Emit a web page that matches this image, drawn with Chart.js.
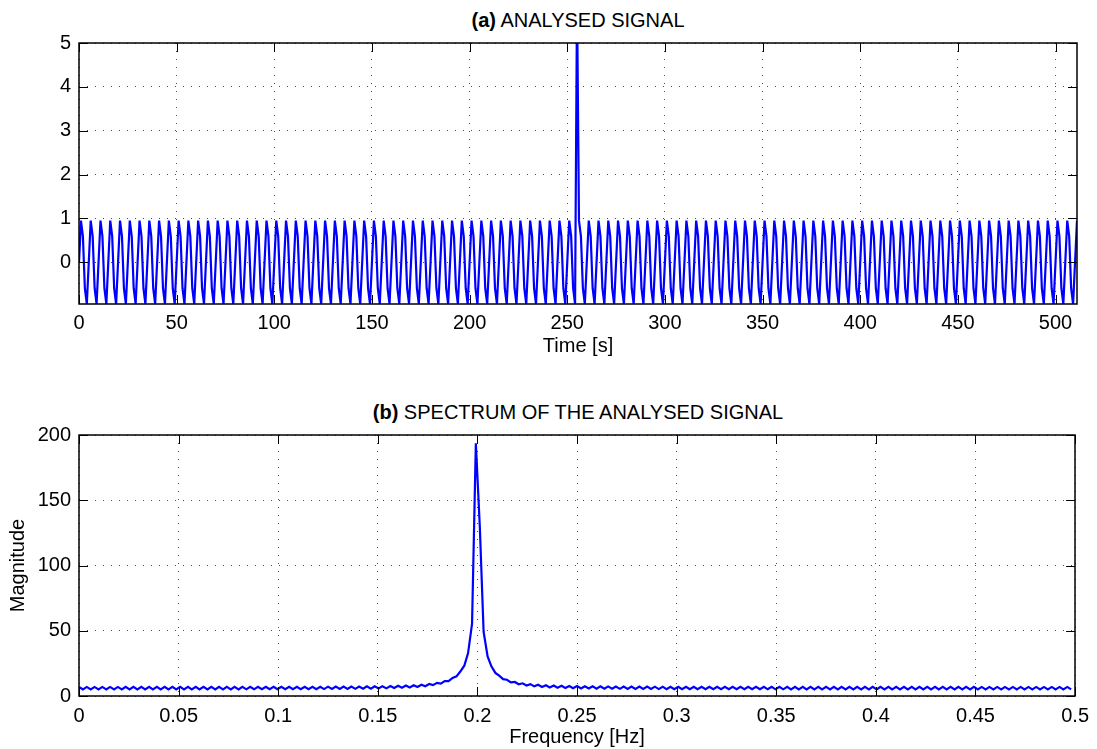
<!DOCTYPE html>
<html>
<head>
<meta charset="utf-8">
<title>Analysed signal and spectrum</title>
<script src="https://cdn.jsdelivr.net/npm/chart.js@4.4.1/dist/chart.umd.min.js"></script>
<style>
  html, body { margin: 0; padding: 0; background: #fff; }
  body { width: 1097px; height: 749px; position: relative; overflow: hidden;
         font-family: "Liberation Sans", Arial, Helvetica, sans-serif; color: #000; }
  .box { position: absolute; left: 0; width: 1097px; }
  #boxA { top: 0; height: 360px; }
  #boxB { top: 390px; height: 359px; }
  .title { position: absolute; left: 79px; width: 998px; text-align: center;
           font-size: 20px; line-height: 22px; white-space: nowrap; }
  #titleA { top: 9px; }
  #titleB { top: 401px; }
</style>
</head>
<body>
<div class="title" id="titleA"><b>(a)</b> ANALYSED SIGNAL</div>
<div class="title" id="titleB"><b>(b)</b> SPECTRUM OF THE ANALYSED SIGNAL</div>
<div class="box" id="boxA"><canvas id="signalChart"></canvas></div>
<div class="box" id="boxB"><canvas id="spectrumChart"></canvas></div>
<script>
// time axis, one sample per second
const timeS = [
  0, 1, 2, 3, 4, 5, 6, 7, 8, 9, 10, 11, 12, 13, 14, 15, 16, 17, 18, 19, 20, 21, 22, 23, 24, 25, 26, 27, 28, 29, 30, 31,
  32, 33, 34, 35, 36, 37, 38, 39, 40, 41, 42, 43, 44, 45, 46, 47, 48, 49, 50, 51, 52, 53, 54, 55, 56, 57, 58, 59, 60, 61, 62, 63,
  64, 65, 66, 67, 68, 69, 70, 71, 72, 73, 74, 75, 76, 77, 78, 79, 80, 81, 82, 83, 84, 85, 86, 87, 88, 89, 90, 91, 92, 93, 94, 95,
  96, 97, 98, 99, 100, 101, 102, 103, 104, 105, 106, 107, 108, 109, 110, 111, 112, 113, 114, 115, 116, 117, 118, 119, 120, 121, 122, 123, 124, 125, 126, 127,
  128, 129, 130, 131, 132, 133, 134, 135, 136, 137, 138, 139, 140, 141, 142, 143, 144, 145, 146, 147, 148, 149, 150, 151, 152, 153, 154, 155, 156, 157, 158, 159,
  160, 161, 162, 163, 164, 165, 166, 167, 168, 169, 170, 171, 172, 173, 174, 175, 176, 177, 178, 179, 180, 181, 182, 183, 184, 185, 186, 187, 188, 189, 190, 191,
  192, 193, 194, 195, 196, 197, 198, 199, 200, 201, 202, 203, 204, 205, 206, 207, 208, 209, 210, 211, 212, 213, 214, 215, 216, 217, 218, 219, 220, 221, 222, 223,
  224, 225, 226, 227, 228, 229, 230, 231, 232, 233, 234, 235, 236, 237, 238, 239, 240, 241, 242, 243, 244, 245, 246, 247, 248, 249, 250, 251, 252, 253, 254, 255,
  256, 257, 258, 259, 260, 261, 262, 263, 264, 265, 266, 267, 268, 269, 270, 271, 272, 273, 274, 275, 276, 277, 278, 279, 280, 281, 282, 283, 284, 285, 286, 287,
  288, 289, 290, 291, 292, 293, 294, 295, 296, 297, 298, 299, 300, 301, 302, 303, 304, 305, 306, 307, 308, 309, 310, 311, 312, 313, 314, 315, 316, 317, 318, 319,
  320, 321, 322, 323, 324, 325, 326, 327, 328, 329, 330, 331, 332, 333, 334, 335, 336, 337, 338, 339, 340, 341, 342, 343, 344, 345, 346, 347, 348, 349, 350, 351,
  352, 353, 354, 355, 356, 357, 358, 359, 360, 361, 362, 363, 364, 365, 366, 367, 368, 369, 370, 371, 372, 373, 374, 375, 376, 377, 378, 379, 380, 381, 382, 383,
  384, 385, 386, 387, 388, 389, 390, 391, 392, 393, 394, 395, 396, 397, 398, 399, 400, 401, 402, 403, 404, 405, 406, 407, 408, 409, 410, 411, 412, 413, 414, 415,
  416, 417, 418, 419, 420, 421, 422, 423, 424, 425, 426, 427, 428, 429, 430, 431, 432, 433, 434, 435, 436, 437, 438, 439, 440, 441, 442, 443, 444, 445, 446, 447,
  448, 449, 450, 451, 452, 453, 454, 455, 456, 457, 458, 459, 460, 461, 462, 463, 464, 465, 466, 467, 468, 469, 470, 471, 472, 473, 474, 475, 476, 477, 478, 479,
  480, 481, 482, 483, 484, 485, 486, 487, 488, 489, 490, 491, 492, 493, 494, 495, 496, 497, 498, 499, 500, 501, 502, 503, 504, 505, 506, 507, 508, 509, 510, 511
];

// analysed signal: 0.2 Hz sine, with the impulse at t = 255 s
const signal = [
  0, 0.95, 0.59, -0.59, -0.95, 0, 0.95, 0.59, -0.59, -0.95, 0, 0.95, 0.59, -0.59, -0.95, 0, 0.95, 0.59, -0.59, -0.95, 0, 0.95, 0.59, -0.59, -0.95,
  0, 0.95, 0.59, -0.59, -0.95, 0, 0.95, 0.59, -0.59, -0.95, 0, 0.95, 0.59, -0.59, -0.95, 0, 0.95, 0.59, -0.59, -0.95, 0, 0.95, 0.59, -0.59, -0.95,
  0, 0.95, 0.59, -0.59, -0.95, 0, 0.95, 0.59, -0.59, -0.95, 0, 0.95, 0.59, -0.59, -0.95, 0, 0.95, 0.59, -0.59, -0.95, 0, 0.95, 0.59, -0.59, -0.95,
  0, 0.95, 0.59, -0.59, -0.95, 0, 0.95, 0.59, -0.59, -0.95, 0, 0.95, 0.59, -0.59, -0.95, 0, 0.95, 0.59, -0.59, -0.95, 0, 0.95, 0.59, -0.59, -0.95,
  0, 0.95, 0.59, -0.59, -0.95, 0, 0.95, 0.59, -0.59, -0.95, 0, 0.95, 0.59, -0.59, -0.95, 0, 0.95, 0.59, -0.59, -0.95, 0, 0.95, 0.59, -0.59, -0.95,
  0, 0.95, 0.59, -0.59, -0.95, 0, 0.95, 0.59, -0.59, -0.95, 0, 0.95, 0.59, -0.59, -0.95, 0, 0.95, 0.59, -0.59, -0.95, 0, 0.95, 0.59, -0.59, -0.95,
  0, 0.95, 0.59, -0.59, -0.95, 0, 0.95, 0.59, -0.59, -0.95, 0, 0.95, 0.59, -0.59, -0.95, 0, 0.95, 0.59, -0.59, -0.95, 0, 0.95, 0.59, -0.59, -0.95,
  0, 0.95, 0.59, -0.59, -0.95, 0, 0.95, 0.59, -0.59, -0.95, 0, 0.95, 0.59, -0.59, -0.95, 0, 0.95, 0.59, -0.59, -0.95, 0, 0.95, 0.59, -0.59, -0.95,
  0, 0.95, 0.59, -0.59, -0.95, 0, 0.95, 0.59, -0.59, -0.95, 0, 0.95, 0.59, -0.59, -0.95, 0, 0.95, 0.59, -0.59, -0.95, 0, 0.95, 0.59, -0.59, -0.95,
  0, 0.95, 0.59, -0.59, -0.95, 0, 0.95, 0.59, -0.59, -0.95, 0, 0.95, 0.59, -0.59, -0.95, 0, 0.95, 0.59, -0.59, -0.95, 0, 0.95, 0.59, -0.59, -0.95,
  0, 0.95, 0.59, -0.59, -0.95, 6, 0.95, 0.59, -0.59, -0.95, 0, 0.95, 0.59, -0.59, -0.95, 0, 0.95, 0.59, -0.59, -0.95, 0, 0.95, 0.59, -0.59, -0.95,
  0, 0.95, 0.59, -0.59, -0.95, 0, 0.95, 0.59, -0.59, -0.95, 0, 0.95, 0.59, -0.59, -0.95, 0, 0.95, 0.59, -0.59, -0.95, 0, 0.95, 0.59, -0.59, -0.95,
  0, 0.95, 0.59, -0.59, -0.95, 0, 0.95, 0.59, -0.59, -0.95, 0, 0.95, 0.59, -0.59, -0.95, 0, 0.95, 0.59, -0.59, -0.95, 0, 0.95, 0.59, -0.59, -0.95,
  0, 0.95, 0.59, -0.59, -0.95, 0, 0.95, 0.59, -0.59, -0.95, 0, 0.95, 0.59, -0.59, -0.95, 0, 0.95, 0.59, -0.59, -0.95, 0, 0.95, 0.59, -0.59, -0.95,
  0, 0.95, 0.59, -0.59, -0.95, 0, 0.95, 0.59, -0.59, -0.95, 0, 0.95, 0.59, -0.59, -0.95, 0, 0.95, 0.59, -0.59, -0.95, 0, 0.95, 0.59, -0.59, -0.95,
  0, 0.95, 0.59, -0.59, -0.95, 0, 0.95, 0.59, -0.59, -0.95, 0, 0.95, 0.59, -0.59, -0.95, 0, 0.95, 0.59, -0.59, -0.95, 0, 0.95, 0.59, -0.59, -0.95,
  0, 0.95, 0.59, -0.59, -0.95, 0, 0.95, 0.59, -0.59, -0.95, 0, 0.95, 0.59, -0.59, -0.95, 0, 0.95, 0.59, -0.59, -0.95, 0, 0.95, 0.59, -0.59, -0.95,
  0, 0.95, 0.59, -0.59, -0.95, 0, 0.95, 0.59, -0.59, -0.95, 0, 0.95, 0.59, -0.59, -0.95, 0, 0.95, 0.59, -0.59, -0.95, 0, 0.95, 0.59, -0.59, -0.95,
  0, 0.95, 0.59, -0.59, -0.95, 0, 0.95, 0.59, -0.59, -0.95, 0, 0.95, 0.59, -0.59, -0.95, 0, 0.95, 0.59, -0.59, -0.95, 0, 0.95, 0.59, -0.59, -0.95,
  0, 0.95, 0.59, -0.59, -0.95, 0, 0.95, 0.59, -0.59, -0.95, 0, 0.95, 0.59, -0.59, -0.95, 0, 0.95, 0.59, -0.59, -0.95, 0, 0.95, 0.59, -0.59, -0.95,
  0, 0.95, 0.59, -0.59, -0.95, 0, 0.95, 0.59, -0.59, -0.95, 0, 0.95
];

const timeTicks = [0, 50, 100, 150, 200, 250, 300, 350, 400, 450, 500];
const signalTicks = [0, 1, 2, 3, 4, 5];

// spectrum bins (Hz)
const freqHz = [
  0, 0.0020, 0.0039, 0.0059, 0.0078, 0.0098, 0.0117, 0.0137, 0.0156, 0.0176, 0.0195, 0.0215, 0.0234, 0.0254, 0.0273, 0.0293,
  0.0313, 0.0332, 0.0352, 0.0371, 0.0391, 0.0410, 0.0430, 0.0449, 0.0469, 0.0488, 0.0508, 0.0527, 0.0547, 0.0566, 0.0586, 0.0605,
  0.0625, 0.0645, 0.0664, 0.0684, 0.0703, 0.0723, 0.0742, 0.0762, 0.0781, 0.0801, 0.0820, 0.0840, 0.0859, 0.0879, 0.0898, 0.0918,
  0.0938, 0.0957, 0.0977, 0.0996, 0.1016, 0.1035, 0.1055, 0.1074, 0.1094, 0.1113, 0.1133, 0.1152, 0.1172, 0.1191, 0.1211, 0.1230,
  0.1250, 0.1270, 0.1289, 0.1309, 0.1328, 0.1348, 0.1367, 0.1387, 0.1406, 0.1426, 0.1445, 0.1465, 0.1484, 0.1504, 0.1523, 0.1543,
  0.1563, 0.1582, 0.1602, 0.1621, 0.1641, 0.1660, 0.1680, 0.1699, 0.1719, 0.1738, 0.1758, 0.1777, 0.1797, 0.1816, 0.1836, 0.1855,
  0.1875, 0.1895, 0.1914, 0.1934, 0.1953, 0.1973, 0.1992, 0.2012, 0.2031, 0.2051, 0.2070, 0.2090, 0.2109, 0.2129, 0.2148, 0.2168,
  0.2188, 0.2207, 0.2227, 0.2246, 0.2266, 0.2285, 0.2305, 0.2324, 0.2344, 0.2363, 0.2383, 0.2402, 0.2422, 0.2441, 0.2461, 0.2480,
  0.2500, 0.2520, 0.2539, 0.2559, 0.2578, 0.2598, 0.2617, 0.2637, 0.2656, 0.2676, 0.2695, 0.2715, 0.2734, 0.2754, 0.2773, 0.2793,
  0.2813, 0.2832, 0.2852, 0.2871, 0.2891, 0.2910, 0.2930, 0.2949, 0.2969, 0.2988, 0.3008, 0.3027, 0.3047, 0.3066, 0.3086, 0.3105,
  0.3125, 0.3145, 0.3164, 0.3184, 0.3203, 0.3223, 0.3242, 0.3262, 0.3281, 0.3301, 0.3320, 0.3340, 0.3359, 0.3379, 0.3398, 0.3418,
  0.3438, 0.3457, 0.3477, 0.3496, 0.3516, 0.3535, 0.3555, 0.3574, 0.3594, 0.3613, 0.3633, 0.3652, 0.3672, 0.3691, 0.3711, 0.3730,
  0.3750, 0.3770, 0.3789, 0.3809, 0.3828, 0.3848, 0.3867, 0.3887, 0.3906, 0.3926, 0.3945, 0.3965, 0.3984, 0.4004, 0.4023, 0.4043,
  0.4063, 0.4082, 0.4102, 0.4121, 0.4141, 0.4160, 0.4180, 0.4199, 0.4219, 0.4238, 0.4258, 0.4277, 0.4297, 0.4316, 0.4336, 0.4355,
  0.4375, 0.4395, 0.4414, 0.4434, 0.4453, 0.4473, 0.4492, 0.4512, 0.4531, 0.4551, 0.4570, 0.4590, 0.4609, 0.4629, 0.4648, 0.4668,
  0.4688, 0.4707, 0.4727, 0.4746, 0.4766, 0.4785, 0.4805, 0.4824, 0.4844, 0.4863, 0.4883, 0.4902, 0.4922, 0.4941, 0.4961, 0.4980
];

// spectrum magnitude, estimated from the plot
const magnitude = [
  6.95, 5.05, 6.95, 5.05, 6.95, 5.05, 6.95, 5.05, 6.95, 5.05, 6.95, 5.05, 6.96, 5.06, 6.96, 5.06,
  6.96, 5.06, 6.96, 5.06, 6.96, 5.06, 6.96, 5.06, 6.97, 5.07, 6.97, 5.07, 6.97, 5.07, 6.97, 5.08,
  6.98, 5.08, 6.98, 5.09, 6.99, 5.09, 6.99, 5.10, 7.00, 5.11, 7.00, 5.12, 7.01, 5.13, 7.02, 5.14,
  7.03, 5.15, 7.03, 5.17, 7.04, 5.18, 7.05, 5.20, 7.07, 5.22, 7.08, 5.24, 7.11, 5.28, 7.13, 5.31,
  7.15, 5.35, 7.18, 5.39, 7.21, 5.43, 7.26, 5.49, 7.30, 5.56, 7.36, 5.66, 7.44, 5.74, 7.52, 5.86,
  7.66, 6.08, 7.81, 6.30, 8.01, 6.58, 8.28, 6.97, 8.66, 7.52, 9.21, 8.31, 10.05, 9.50, 11.40, 11.45,
  13.81, 15.04, 18.77, 23.19, 32.86, 55.44, 193.7, 129.3, 49.07, 30.37, 22.75, 17.71, 15.60, 12.90, 12.44, 10.44,
  10.74, 8.98, 9.73, 8.03, 9.07, 7.40, 8.60, 6.93, 8.27, 6.59, 8.03, 6.34, 7.86, 6.14, 7.71, 5.98,
  7.60, 5.85, 7.51, 5.75, 7.45, 5.67, 7.39, 5.60, 7.34, 5.54, 7.30, 5.49, 7.25, 5.43, 7.22, 5.40,
  7.20, 5.37, 7.17, 5.34, 7.15, 5.31, 7.13, 5.28, 7.12, 5.26, 7.10, 5.25, 7.09, 5.23, 7.08, 5.21,
  7.07, 5.20, 7.06, 5.19, 7.05, 5.18, 7.04, 5.17, 7.04, 5.16, 7.03, 5.15, 7.02, 5.14, 7.02, 5.13,
  7.01, 5.13, 7.01, 5.12, 7.00, 5.12, 7.00, 5.11, 6.99, 5.11, 6.99, 5.10, 6.99, 5.10, 6.99, 5.10,
  6.98, 5.09, 6.98, 5.09, 6.98, 5.09, 6.98, 5.08, 6.97, 5.08, 6.97, 5.08, 6.97, 5.07, 6.97, 5.07,
  6.97, 5.07, 6.96, 5.07, 6.96, 5.07, 6.96, 5.06, 6.96, 5.06, 6.96, 5.06, 6.96, 5.06, 6.96, 5.06,
  6.96, 5.06, 6.96, 5.06, 6.96, 5.06, 6.96, 5.05, 6.95, 5.05, 6.95, 5.05, 6.95, 5.05, 6.95, 5.05,
  6.95, 5.05, 6.95, 5.05, 6.95, 5.05, 6.95, 5.05, 6.95, 5.05, 6.95, 5.05, 6.95, 5.05, 6.95, 5.05
];

const freqTicks = [0, 0.05, 0.1, 0.15, 0.2, 0.25, 0.3, 0.35, 0.4, 0.45, 0.5];
const magTicks = [0, 50, 100, 150, 200];

// Styling shared by both panels
const FONT = '"Liberation Sans", Arial, Helvetica, sans-serif';
Chart.defaults.font.family = FONT;
Chart.defaults.color = "#000";
const gridColor = "rgba(0,0,0,0.7)";
const lineBlue = "#0000ff";
const textSize = 20;

// MATLAB-like box with inward tick marks on all four sides
const boxAndTicks = {
    id: "boxAndTicks",
    afterDatasetsDraw(chart) {
        const { ctx, chartArea, scales } = chart;
        const { left, right, top, bottom } = chartArea;
        const len = 9;
        ctx.save();
        ctx.strokeStyle = "#000";
        ctx.lineWidth = 1;
        ctx.beginPath();
        scales.x.ticks.forEach(t => {
            const px = Math.round(scales.x.getPixelForValue(t.value)) + 0.5;
            ctx.moveTo(px, bottom);
            ctx.lineTo(px, bottom - len);
            ctx.moveTo(px, top);
            ctx.lineTo(px, top + len);
        });
        scales.y.ticks.forEach(t => {
            const py = Math.round(scales.y.getPixelForValue(t.value)) + 0.5;
            ctx.moveTo(left, py);
            ctx.lineTo(left + len, py);
            ctx.moveTo(right, py);
            ctx.lineTo(right - len, py);
        });
        ctx.stroke();
        ctx.lineWidth = 1.5;
        ctx.strokeRect(Math.round(left), Math.round(top), Math.round(right - left), Math.round(bottom - top));
        ctx.restore();
    }
};

function fixedTicks(values) {
    return scale => { scale.ticks = values.map(v => ({ value: v })); };
}

// (a) ANALYSED SIGNAL
new Chart(document.getElementById("signalChart"), {
    type: "line",
    data: {
        datasets: [{
            data: timeS.map((t, i) => ({ x: t, y: signal[i] })),
            borderColor: lineBlue,
            borderWidth: 2.2,
            pointRadius: 0,
            tension: 0,
            fill: false
        }]
    },
    options: {
        responsive: true,
        maintainAspectRatio: false,
        animation: false,
        events: [],
        layout: { padding: { top: 43, right: 20, bottom: 0, left: 0 } },
        plugins: { legend: { display: false }, tooltip: { enabled: false } },
        scales: {
            x: {
                type: "linear",
                min: 0,
                max: 511,
                afterBuildTicks: fixedTicks(timeTicks),
                afterFit: s => { s.height = 56; },
                ticks: { autoSkip: false, maxRotation: 0, padding: 7, font: { size: textSize }, callback: v => String(v) },
                grid: { color: gridColor, drawTicks: false },
                border: { display: false, dash: [1, 7] },
                title: { display: true, text: "Time [s]", font: { size: textSize }, padding: { top: 0, bottom: 2 } }
            },
            y: {
                type: "linear",
                min: -0.951,
                max: 5,
                afterBuildTicks: fixedTicks(signalTicks),
                afterFit: s => { s.width = 79; },
                ticks: { padding: 8, font: { size: textSize }, callback: v => String(v) },
                grid: { color: gridColor, drawTicks: false },
                border: { display: false, dash: [1, 7] }
            }
        }
    },
    plugins: [boxAndTicks]
});

// (b) SPECTRUM OF THE ANALYSED SIGNAL
new Chart(document.getElementById("spectrumChart"), {
    type: "line",
    data: {
        datasets: [{
            data: freqHz.map((f, i) => ({ x: f, y: magnitude[i] })),
            borderColor: lineBlue,
            borderWidth: 2.2,
            pointRadius: 0,
            tension: 0,
            fill: false
        }]
    },
    options: {
        responsive: true,
        maintainAspectRatio: false,
        animation: false,
        events: [],
        layout: { padding: { top: 45, right: 20, bottom: 0, left: 0 } },
        plugins: { legend: { display: false }, tooltip: { enabled: false } },
        scales: {
            x: {
                type: "linear",
                min: 0,
                max: 0.5,
                afterBuildTicks: fixedTicks(freqTicks),
                afterFit: s => { s.height = 53; },
                ticks: { autoSkip: false, maxRotation: 0, padding: 8, font: { size: textSize }, callback: v => String(v) },
                grid: { color: gridColor, drawTicks: false },
                border: { display: false, dash: [1, 7] },
                title: { display: true, text: "Frequency [Hz]", font: { size: textSize }, padding: { top: 0, bottom: 0 } }
            },
            y: {
                type: "linear",
                min: 0,
                max: 200,
                afterBuildTicks: fixedTicks(magTicks),
                afterFit: s => { s.width = 79; },
                ticks: { padding: 8, font: { size: textSize }, callback: v => String(v) },
                grid: { color: gridColor, drawTicks: false },
                border: { display: false, dash: [1, 7] },
                title: { display: true, text: "Magnitude", font: { size: textSize }, padding: { top: 6, bottom: 0 } }
            }
        }
    },
    plugins: [boxAndTicks]
});
</script>
</body>
</html>
